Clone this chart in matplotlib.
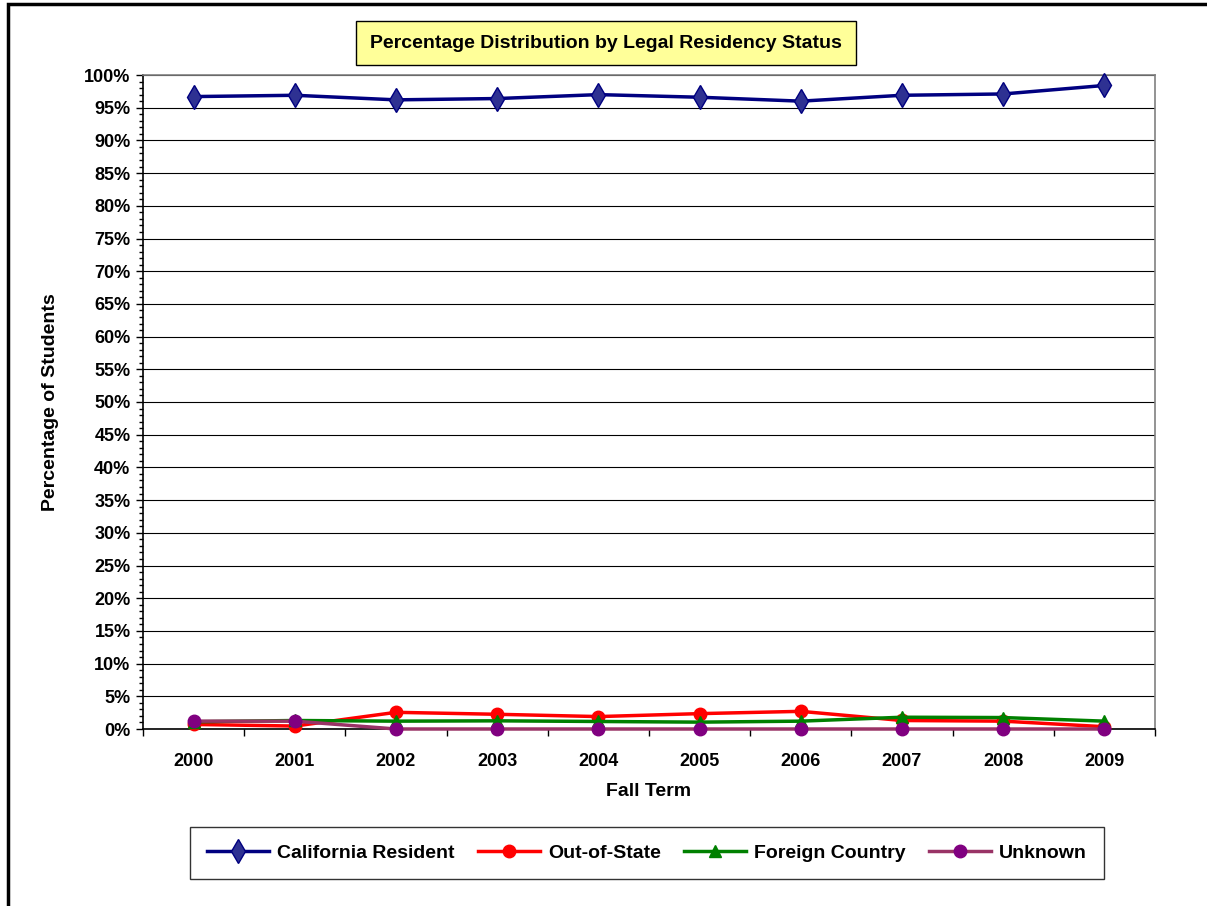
import numpy as np
import matplotlib.pyplot as plt
from matplotlib.patches import Rectangle
from matplotlib.ticker import MultipleLocator, PercentFormatter

# Daten (Prozent)
years = ["2000", "2001", "2002", "2003", "2004", "2005", "2006", "2007", "2008", "2009"]
california = [96.7, 96.9, 96.2, 96.4, 97.0, 96.6, 96.0, 96.9, 97.1, 98.4]
out_of_state = [0.7, 0.45, 2.55, 2.25, 1.9, 2.35, 2.7, 1.3, 1.2, 0.35]
foreign = [1.1, 1.3, 1.2, 1.25, 1.15, 1.05, 1.2, 1.8, 1.75, 1.2]
unknown = [1.2, 1.2, 0.0, 0.0, 0.0, 0.0, 0.0, 0.0, 0.0, 0.0]

plt.rcParams['font.family'] = ['Liberation Sans', 'DejaVu Sans']

fig = plt.figure(figsize=(12.07, 9.06), dpi=100)
ax = fig.add_axes([143 / 1207, 1 - 729 / 906, (1155 - 143) / 1207, (729 - 75) / 906])

# Rahmen um das Diagramm
fig.patches.append(Rectangle((8 / 1207, -0.05), 1.2, 1 - 4 / 906 + 0.05, transform=fig.transFigure,
                             fill=False, edgecolor='black', linewidth=2.5))

x = np.arange(len(years))
ax.plot(x, california, color='#000080', linewidth=2.5, marker='d', markersize=12,
        markerfacecolor='#2E3192', markeredgecolor='#000080', label='California Resident',
        zorder=3, clip_on=False)
ax.plot(x, out_of_state, color='#FF0000', linewidth=2.5, marker='o', markersize=9,
        markerfacecolor='#FF0000', markeredgecolor='#FF0000', label='Out-of-State',
        zorder=3, clip_on=False)
ax.plot(x, foreign, color='#008000', linewidth=2.5, marker='^', markersize=9,
        markerfacecolor='#008000', markeredgecolor='#008000', label='Foreign Country',
        zorder=3, clip_on=False)
ax.plot(x, unknown, color='#993366', linewidth=2.5, marker='o', markersize=9,
        markerfacecolor='#800080', markeredgecolor='#800080', label='Unknown',
        zorder=3, clip_on=False)

ax.set_xlim(-0.5, len(years) - 0.5)
ax.set_ylim(0, 100)
ax.yaxis.set_major_locator(MultipleLocator(5))
ax.yaxis.set_minor_locator(MultipleLocator(1))
ax.yaxis.set_major_formatter(PercentFormatter(decimals=0))
ax.grid(axis='y', which='major', color='black', linewidth=0.8)
ax.set_axisbelow(True)

ax.set_xticks(x)
ax.set_xticklabels(years, fontsize=13, fontweight='bold')
ax.set_xticks(np.arange(-0.5, len(years)), minor=True)
ax.tick_params(axis='x', which='major', length=0, pad=17)
ax.tick_params(axis='x', which='minor', length=5, width=1, direction='out')
ax.tick_params(axis='y', which='major', length=5, width=1, labelsize=13, pad=4)
ax.tick_params(axis='y', which='minor', length=3, width=1)
for lab in ax.get_yticklabels():
    lab.set_fontweight('bold')

ax.spines['left'].set_color('black')
ax.spines['bottom'].set_color('black')
ax.spines['top'].set_color('#808080')
ax.spines['right'].set_color('#808080')
for s in ax.spines.values():
    s.set_linewidth(1.2)

ax.set_xlabel('Fall Term', fontsize=14, fontweight='bold', labelpad=10)
ax.set_ylabel('Percentage of Students', fontsize=14, fontweight='bold', labelpad=18)

fig.text(606 / 1207, 1 - 43 / 906, 'Percentage Distribution by Legal Residency Status',
         ha='center', va='center', fontsize=14, fontweight='bold',
         bbox=dict(boxstyle='square,pad=0.7', facecolor='#FFFF99', edgecolor='black', linewidth=1))

leg = fig.legend(loc='center', bbox_to_anchor=(647 / 1207, 1 - 853 / 906), ncol=4,
                 prop={'weight': 'bold', 'size': 14}, frameon=True, fancybox=False,
                 edgecolor='black', handlelength=3.2, columnspacing=1.2, handletextpad=0.4,
                 borderpad=0.9)
leg.get_frame().set_linewidth(1)

fig.savefig('out.png', dpi=100)
